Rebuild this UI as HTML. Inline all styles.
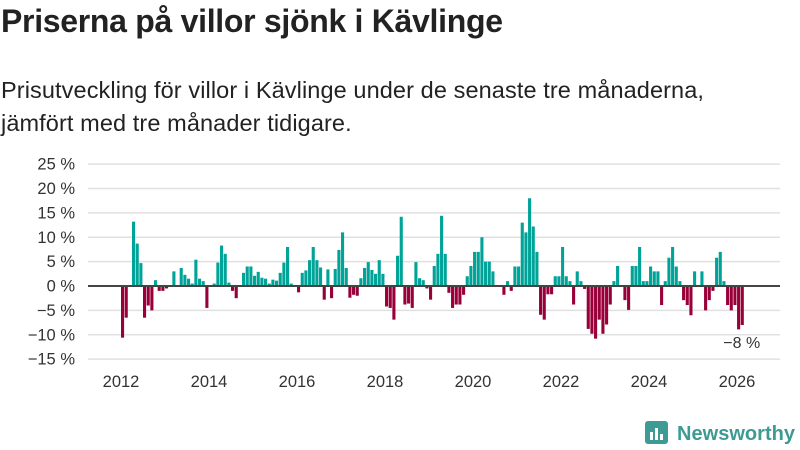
<!DOCTYPE html>
<html><head><meta charset="utf-8"><style>
body{margin:0;width:800px;height:450px;background:#fff;font-family:"Liberation Sans",sans-serif;color:#222;overflow:hidden;position:relative}
#title{position:absolute;left:1px;top:3px;font-size:32px;font-weight:bold;margin:0;letter-spacing:-0.3px}
#sub{position:absolute;left:1px;top:74px;font-size:23.5px;line-height:33px;margin:0;letter-spacing:0.1px}
svg{position:absolute;left:0;top:0}
</style></head><body>
<h1 id="title">Priserna på villor sjönk i Kävlinge</h1>
<p id="sub">Prisutveckling för villor i Kävlinge under de senaste tre månaderna,<br>jämfört med tre månader tidigare.</p>
<svg id="chart" width="800" height="450"></svg>
<script>
const yTicks=[25,20,15,10,5,0,-5,-10,-15];
const yearTicks=[2012,2014,2016,2018,2020,2022,2024,2026];
const startYear=2012;
const values=[-10.6,-6.5,0,13.2,8.7,4.7,-6.5,-4,-5,1.2,-1,-1,-0.5,0,3,0,3.7,2.3,1.5,0.5,5.4,1.5,1,-4.5,0,0.5,4.8,8.3,6.6,0.7,-1,-2.5,0,2.7,4,4,2.1,2.9,1.7,1.5,0.5,1.3,1.1,2.7,4.8,8,0.5,0,-1.3,2.7,3.2,5.3,8,5.3,3.8,-2.8,3.4,
-2.5,3.5,7.4,11,3.7,-2.4,-1.8,-2,1.6,3.7,4.9,3.3,2.5,5.3,2.5,-4.2,-4.5,-6.9,6.2,14.2,-3.8,-3.6,-4.5,4.9,1.6,1.2,-0.5,-2.8,4.1,6.6,14.4,6.6,-1.4,-4.5,-3.8,-3.8,-1.8,2,4.1,7,7,10,5,5,3,0,0,-1.8,1,-1,4,4,13,11,
18,12.2,7,-5.9,-6.9,-1.7,-1.7,2,2,8,2,1,-3.8,3,1,-0.6,-8.8,-9.8,-10.8,-6.9,-9.8,-7.9,-3.8,1,4.1,0,-2.9,-4.9,4.1,4.1,8,1,1,4,3,3,-3.9,1,5.8,8,4,1,-2.9,-3.9,-6,3,0,3,-5,-2.9,-1,5.8,7,1,-3.9,-5,-3.9,-8.9,-8];
const lastLabel="−8 %";
const svg=document.getElementById('chart');const NS='http://www.w3.org/2000/svg';
const y=v=>286-v*4.875;
const xm=i=>121+i*3.667;
const xy=yr=>121+(yr-startYear)*44;
function mk(t,a){const e=document.createElementNS(NS,t);for(const k in a)e.setAttribute(k,a[k]);svg.appendChild(e);return e;}
yTicks.forEach(t=>{
 const g=mk('line',{x1:88,x2:780,y1:y(t),y2:y(t),stroke:'#e0e0e0','stroke-width':1.5});
 
 
 const l=mk('text',{x:75,y:y(t)+5.5,'text-anchor':'end','font-size':16.5,fill:'#333'});
 l.textContent=(t<0?'−'+(-t):t)+' %';
 
 
});
values.forEach((v,i)=>{
 const r=mk('rect',{x:xm(i),width:3.1,y:v>=0?y(v):286,height:Math.abs(v)*4.875,fill:v>=0?'#00a398':'#99003a'});
 
 
});
const z=mk('line',{x1:88,x2:780,y1:286,y2:286,stroke:'#444','stroke-width':2});


yearTicks.forEach(yr=>{
 const t=mk('text',{x:xy(yr),y:387,'text-anchor':'middle','font-size':16.5,fill:'#333'});
 t.textContent=yr;
 
 
});
const ll=mk('text',{x:xm(values.length-1)+1,y:348,'text-anchor':'middle','font-size':16,fill:'#333'});
ll.textContent=lastLabel;


const lr=mk('rect',{x:645,y:421,width:23,height:23,rx:3,fill:'#3d9b94'});


[[650,432,3,8],[655,428,3,12],[660,434,3,6]].forEach(b=>{const e=mk('rect',{x:b[0],y:b[1],width:b[2],height:b[3],fill:'#fff'});

});
const lt=mk('text',{x:677,y:440,'font-size':20,'font-weight':'bold',fill:'#3d9b94',textLength:118});
lt.textContent='Newsworthy';


</script>
</body></html>
